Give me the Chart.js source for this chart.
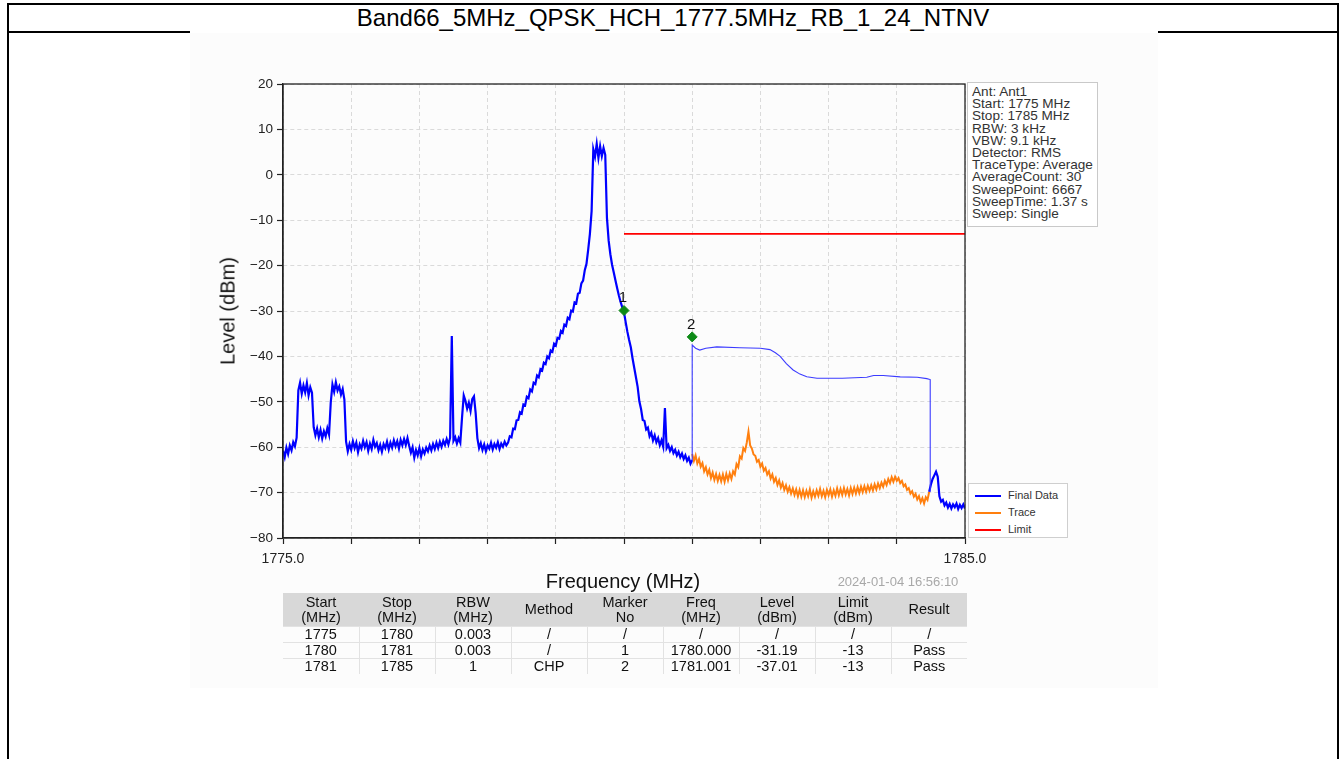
<!DOCTYPE html>
<html>
<head>
<meta charset="utf-8">
<script src="https://cdn.jsdelivr.net/npm/chart.js@4/dist/chart.umd.min.js"></script>
<style>
  html, body { margin: 0; padding: 0; background: #fff; }
  body { width: 1340px; height: 759px; position: relative; overflow: hidden; font-family: "Liberation Sans", Arial, sans-serif; }
  .line { position: absolute; background: #000; }
  #title { position: absolute; left: 8px; width: 1330px; top: 4px; height: 28px; line-height: 28px; text-align: center; font-size: 24px; color: #000; }
  #imgbg { position: absolute; left: 190px; top: 33px; width: 968px; height: 655px; background: #fcfcfc; }
  #chartbox { position: absolute; left: 190px; top: 60px; width: 805px; height: 520px; }
  #ytitle { position: absolute; left: 228px; top: 311px; transform: translate(-50%, -50%) rotate(-90deg); font-size: 20px; white-space: nowrap; color: #111; }
  #xtitle { position: absolute; left: 623px; top: 581px; transform: translate(-50%, -50%); font-size: 20px; white-space: nowrap; color: #111; }
  #stamp { position: absolute; left: 898px; top: 581px; transform: translate(-50%, -50%); font-size: 13px; white-space: nowrap; color: #a8a8a8; }
  #info { position: absolute; left: 967px; top: 82px; width: 131px; height: 145px; border: 1px solid #c9c9c9; background: #fff; box-sizing: border-box; padding: 3px 0 0 4px; font-size: 13.6px; line-height: 12.2px; color: #333; white-space: nowrap; }
  #legend { position: absolute; left: 968px; top: 483px; width: 100px; height: 55px; border: 1px solid #cfcfcf; background: #fff; box-sizing: border-box; }
  .lg { position: absolute; left: 6px; height: 14px; font-size: 11px; color: #333; white-space: nowrap; }
  .lg span.sw { position: absolute; left: 0; top: 7px; width: 26px; height: 2px; }
  .lg span.tx { position: absolute; left: 33px; top: 0; line-height: 14px; }
  #tbl { position: absolute; left: 283px; top: 593px; width: 684px; border-collapse: collapse; table-layout: fixed; font-size: 14.5px; color: #111; }
  #tbl th { background: #d8d8d8; font-weight: normal; height: 33px; line-height: 15px; padding: 0; text-align: center; }
  #tbl td { height: 15px; line-height: 15px; padding: 0; text-align: center; border-top: 1px solid #e2e2e2; }
  #tbl td + td { border-left: 1px solid #e2e2e2; }
</style>
</head>
<body>
<div class="line" style="left:8px; top:3px; width:1331px; height:2px;"></div>
<div class="line" style="left:7px; top:3px; width:2px; height:756px;"></div>
<div class="line" style="left:1337px; top:3px; width:2px; height:756px;"></div>
<div class="line" style="left:8px; top:31px; width:182px; height:2px;"></div>
<div class="line" style="left:1158px; top:31px; width:180px; height:2px;"></div>
<div id="title"></div>
<div id="imgbg"></div>
<div id="chartbox"><canvas id="c" width="805" height="520"></canvas></div>
<div id="ytitle"></div>
<div id="xtitle"></div>
<div id="stamp"></div>
<div id="info"></div>
<div id="legend"></div>
<table id="tbl"><thead><tr id="thead"></tr></thead><tbody id="tbody"></tbody></table>
<script>
// ---------------- DATA ----------------
const chartTitle = "Band66_5MHz_QPSK_HCH_1777.5MHz_RB_1_24_NTNV";
const xAxisTitle = "Frequency (MHz)";
const yAxisTitle = "Level (dBm)";
const timeStamp = "2024-01-04 16:56:10";

const xMin = 1775, xMax = 1785;
const xTickValues = [1775, 1785];
const xTickLabels = ["1775.0", "1785.0"];
const yTicks = [-80, -70, -60, -50, -40, -30, -20, -10, 0, 10, 20];

// Final Data (sweep 1775.000 -> 1781.000 MHz, step 0.025 MHz)
const finalStart = 1775.0, sweepStep = 0.025;
const finalLevels = [
  -60.8, -62.2, -60.1, -61.5, -59.6, -60.7, -58.9, -59.8,
  -57.9, -47.5, -45.8, -48.2, -46.4, -47.9, -45.9, -48.6,
  -46.8, -48.0, -55.6, -57.4, -55.9, -57.8, -56.2, -58.1,
  -56.5, -57.6, -55.8, -57.2, -50.2, -46.2, -47.8, -45.7,
  -47.5, -46.6, -48.4, -47.2, -49.5, -58.8, -60.9, -59.3,
  -60.6, -58.7, -60.2, -59.0, -61.1, -59.4, -60.3, -58.6,
  -60.0, -58.9, -60.8, -59.2, -60.4, -58.4, -59.9, -59.1,
  -60.7, -59.5, -61.0, -59.3, -60.2, -58.8, -60.5, -59.0,
  -60.1, -58.5, -59.8, -58.7, -60.3, -58.4, -59.6, -58.2,
  -59.5, -58.0, -59.7, -61.2, -60.0, -62.3, -60.6, -61.8,
  -60.2, -62.0, -60.5, -61.4, -60.1, -60.9, -59.6, -60.7,
  -59.3, -60.4, -59.0, -60.2, -58.8, -59.9, -58.6, -59.5,
  -58.2, -59.4, -57.9, -35.5, -58.6, -57.8, -59.2, -58.0,
  -59.0, -53.5, -48.6, -49.8, -51.5, -50.2, -52.0, -49.4,
  -48.8, -52.5, -58.0, -60.2, -59.1, -60.6, -59.4, -60.9,
  -59.6, -60.3, -59.0, -60.5, -59.3, -60.1, -58.9, -60.4,
  -59.2, -59.9, -58.8, -59.6, -59.0, -57.6, -57.8, -55.9,
  -56.0, -54.1, -54.0, -52.3, -52.6, -50.6, -50.8, -48.9,
  -49.2, -47.3, -47.7, -45.8, -46.1, -44.2, -44.6, -42.8,
  -43.1, -41.4, -41.7, -40.0, -40.4, -38.7, -39.0, -37.2,
  -37.6, -35.9, -36.1, -34.4, -34.8, -33.0, -33.3, -31.5,
  -31.8, -29.9, -30.1, -28.1, -28.3, -26.2, -26.0, -23.9,
  -23.3, -21.0, -19.6, -16.5, -13.0, -8.0, 5.6, 4.0,
  6.8, 3.7, 6.3, 4.1, 5.9, 4.4, -9.5, -14.5,
  -17.5, -19.8, -21.5, -23.3, -25.0, -26.6, -28.0, -29.2,
  -30.3, -32.5, -34.6, -36.4, -38.0, -40.4, -42.5, -44.6,
  -46.7, -49.9, -51.6, -54.0, -54.2, -56.1, -55.7, -57.6,
  -56.8, -58.5, -57.4, -58.9, -58.0, -59.6, -58.5, -59.9,
  -51.4, -60.2, -59.5, -60.8, -60.0, -61.3, -60.6, -61.8,
  -61.0, -62.2, -61.4, -62.6, -61.8, -63.0, -62.3, -63.6,
  -62.8
];

// Trace (1781.000 -> 1784.475 MHz, step 0.025 MHz)
const traceStart = 1781.0;
const traceLevels = [
  -61.5, -63.0, -61.8, -63.6, -62.6, -64.3, -63.5, -65.3,
  -64.4, -66.0, -65.0, -66.8, -65.6, -67.2, -65.9, -67.4,
  -66.1, -67.5, -66.0, -67.6, -65.9, -67.3, -65.8, -67.0,
  -65.3, -66.0, -63.7, -64.4, -62.0, -62.5, -60.2, -60.8,
  -59.0, -56.6, -59.6, -60.3, -61.6, -61.9, -63.2, -62.8,
  -64.3, -63.6, -65.2, -64.6, -66.0, -65.3, -66.9, -66.0,
  -67.6, -66.8, -68.3, -67.3, -68.9, -67.9, -69.4, -68.4,
  -69.8, -68.8, -70.2, -69.1, -70.5, -69.3, -70.8, -69.4,
  -70.9, -69.5, -71.0, -69.6, -70.8, -69.3, -71.1, -69.7,
  -70.9, -69.5, -70.7, -69.2, -70.8, -69.6, -71.0, -69.4,
  -70.6, -69.3, -70.9, -69.5, -70.7, -69.1, -70.6, -69.2,
  -70.5, -69.0, -70.4, -69.2, -70.6, -69.0, -70.3, -68.9,
  -70.2, -68.8, -70.1, -68.7, -69.9, -68.6, -69.8, -68.5,
  -69.6, -68.4, -69.5, -68.2, -69.3, -68.0, -69.0, -67.8,
  -68.7, -67.4, -68.3, -67.0, -67.9, -66.6, -67.6, -66.5,
  -67.4, -66.8, -67.9, -67.4, -68.6, -68.2, -69.4, -69.0,
  -70.2, -69.7, -70.9, -70.3, -71.5, -70.8, -72.1, -71.2,
  -72.4, -71.0, -71.6, -69.8
];

// Final Data tail (1784.475 -> 1785.000 MHz, step 0.025 MHz)
const tailStart = 1784.475;
const tailLevels = [
  -69.8, -68.2, -67.0, -66.2, -65.4, -66.5, -70.8, -72.0,
  -71.6, -72.8, -72.2, -73.3, -72.5, -73.5, -72.6, -73.2,
  -72.4, -73.6, -72.7, -73.4, -72.6, -73.5
];

// Channel power (CHP) result line, 1781 -> 1784.49 MHz
const chpFreq  = [1781.0, 1781.0, 1781.05, 1781.11, 1781.2, 1781.36, 1781.7, 1782.0, 1782.14, 1782.22, 1782.29, 1782.38, 1782.48, 1782.58, 1782.68, 1782.83, 1783.2, 1783.56, 1783.66, 1783.8, 1784.05, 1784.3, 1784.44, 1784.49, 1784.49];
const chpLevel = [-63.0, -37.5, -38.2, -38.6, -38.2, -37.9, -38.1, -38.2, -38.5, -39.2, -40.0, -41.6, -43.0, -43.9, -44.5, -44.8, -44.8, -44.6, -44.2, -44.2, -44.5, -44.6, -44.9, -45.1, -69.8];

// Limit
const limitFreq = [1780.0, 1785.0];
const limitLevel = [-13, -13];

// Markers
const markerFreq = [1780.0, 1781.0];
const markerLevel = [-29.9, -35.7];
const markerNo = ["1", "2"];

// Legend / info
const legendNames = ["Final Data", "Trace", "Limit"];
const legendColors = ["#0000ff", "#ff7f0e", "#ff0000"];
const infoLines = ["Ant: Ant1", "Start: 1775 MHz", "Stop: 1785 MHz", "RBW: 3 kHz", "VBW: 9.1 kHz", "Detector: RMS", "TraceType: Average", "AverageCount: 30", "SweepPoint: 6667", "SweepTime: 1.37 s", "Sweep: Single"];

// Result table
const tableHeader = ["Start<br>(MHz)", "Stop<br>(MHz)", "RBW<br>(MHz)", "Method", "Marker<br>No", "Freq<br>(MHz)", "Level<br>(dBm)", "Limit<br>(dBm)", "Result"];
const tableRows = [
  ["1775", "1780", "0.003", "/", "/", "/", "/", "/", "/"],
  ["1780", "1781", "0.003", "/", "1", "1780.000", "-31.19", "-13", "Pass"],
  ["1781", "1785", "1", "CHP", "2", "1781.001", "-37.01", "-13", "Pass"]
];

// ---------------- PAGE TEXT ----------------
document.getElementById("title").textContent = chartTitle;
document.getElementById("xtitle").textContent = xAxisTitle;
document.getElementById("ytitle").textContent = yAxisTitle;
document.getElementById("stamp").textContent = timeStamp;
document.getElementById("info").innerHTML = infoLines.map(s => "<div>" + s + "</div>").join("");
const lg = document.getElementById("legend");
legendNames.forEach((n, i) => {
  const d = document.createElement("div");
  d.className = "lg";
  d.style.top = (4 + i * 17) + "px";
  d.innerHTML = '<span class="sw" style="background:' + legendColors[i] + '"></span><span class="tx">' + n + '</span>';
  lg.appendChild(d);
});
document.getElementById("thead").innerHTML = tableHeader.map(h => "<th>" + h + "</th>").join("");
document.getElementById("tbody").innerHTML = tableRows.map(r => "<tr>" + r.map(c => "<td>" + c + "</td>").join("") + "</tr>").join("");

// ---------------- CHART ----------------
const toPts = (start, levels) => levels.map((v, i) => ({ x: +(start + i * sweepStep).toFixed(3), y: v }));
const pairPts = (fs, ls) => fs.map((f, i) => ({ x: f, y: ls[i] }));

const framePlugin = {
  id: "frame",
  afterDraw(chart) {
    const a = chart.chartArea, ctx = chart.ctx;
    ctx.save();
    ctx.strokeStyle = "#222";
    ctx.lineWidth = 1.3;
    ctx.strokeRect(a.left, a.top, a.right - a.left, a.bottom - a.top);
    ctx.restore();
  }
};
const markerLabelPlugin = {
  id: "markerLabels",
  afterDatasetsDraw(chart) {
    const meta = chart.getDatasetMeta(0);
    const ctx = chart.ctx;
    ctx.save();
    ctx.fillStyle = "#111";
    ctx.font = "15px 'Liberation Sans', Arial, sans-serif";
    ctx.textAlign = "center";
    ctx.textBaseline = "bottom";
    meta.data.forEach((p, i) => ctx.fillText(markerNo[i], p.x - 1, p.y - 5));
    ctx.restore();
  }
};

new Chart(document.getElementById("c"), {
  type: "scatter",
  data: {
    datasets: [
      { label: "Marker", data: pairPts(markerFreq, markerLevel), showLine: false, pointStyle: "rectRot", pointRadius: 5, backgroundColor: "#0d8a16", borderColor: "#0d8a16", borderWidth: 1 },
      { label: "Limit", data: pairPts(limitFreq, limitLevel), showLine: true, borderColor: "#ff0000", borderWidth: 1.8, pointRadius: 0 },
      { label: "CHP", data: pairPts(chpFreq, chpLevel), showLine: true, borderColor: "#3b3bff", borderWidth: 1.1, pointRadius: 0 },
      { label: "Final Data", data: toPts(tailStart, tailLevels), showLine: true, borderColor: "#0000ff", borderWidth: 2.2, pointRadius: 0 },
      { label: "Trace", data: toPts(traceStart, traceLevels), showLine: true, borderColor: "#ff7f0e", borderWidth: 2.0, pointRadius: 0 },
      { label: "Final Data", data: toPts(finalStart, finalLevels), showLine: true, borderColor: "#0000ff", borderWidth: 2.2, pointRadius: 0 }
    ]
  },
  options: {
    responsive: false,
    animation: false,
    devicePixelRatio: 1,
    layout: { padding: { left: 0, top: 24, right: 30, bottom: 0 } },
    plugins: { legend: { display: false }, tooltip: { enabled: false }, title: { display: false } },
    scales: {
      x: {
        type: "linear", min: xMin, max: xMax,
        afterFit(s) { s.height = 42; },
        afterBuildTicks(s) { s.ticks = []; for (let v = xMin; v <= xMax; v++) s.ticks.push({ value: v }); },
        ticks: {
          autoSkip: false, maxRotation: 0, padding: 7, color: "#222",
          font: { family: "'Liberation Sans', Arial, sans-serif", size: 14 },
          callback(v) { const k = xTickValues.indexOf(v); return k >= 0 ? xTickLabels[k] : ""; }
        },
        grid: { color: "#dadada", lineWidth: 1, tickLength: 6, tickColor: "#222", tickWidth: 1.2 },
        border: { display: true, color: "#222", width: 1.3, dash: [4, 3] }
      },
      y: {
        type: "linear", min: yTicks[0], max: yTicks[yTicks.length - 1],
        afterFit(s) { s.width = 93; },
        afterBuildTicks(s) { s.ticks = yTicks.map(v => ({ value: v })); },
        ticks: {
          padding: 4, color: "#222",
          font: { family: "'Liberation Sans', Arial, sans-serif", size: 13.5 },
          callback(v) { return String(v).replace("-", "\u2212"); }
        },
        grid: { color: "#dadada", lineWidth: 1, tickLength: 6, tickColor: "#222", tickWidth: 1.2 },
        border: { display: true, color: "#222", width: 1.3, dash: [4, 3] }
      }
    }
  },
  plugins: [framePlugin, markerLabelPlugin]
});
</script>
</body>
</html>
